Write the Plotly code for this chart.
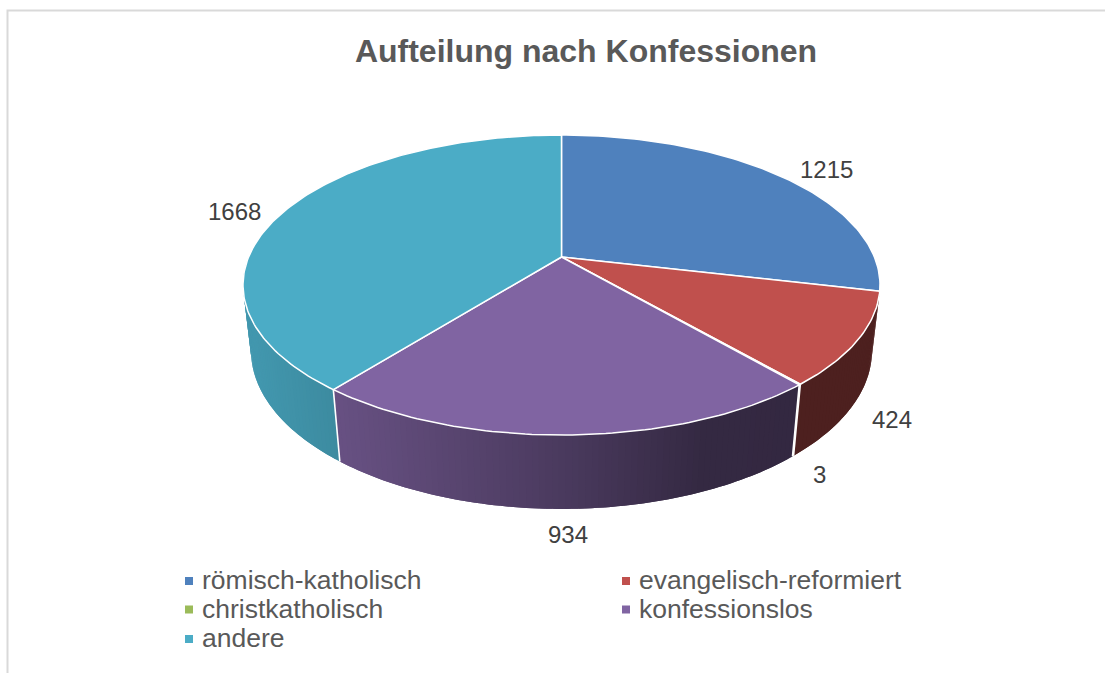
import numpy as np
import plotly.graph_objects as go

title = "Aufteilung nach Konfessionen"
categories = ["römisch-katholisch", "evangelisch-reformiert", "christkatholisch", "konfessionslos", "andere"]
values = [1215, 424, 3, 934, 1668]
colors = ["#4f81bd", "#c0504d", "#9bbb59", "#8064a2", "#4bacc6"]

W, H = 1105, 673
# projection of the 3D disc onto the page (page-pixel axes)
CX, CY = 561.5, 257.0
RX, RY, PERSP = 312.9, 144.8, 0.1867
DEPTH_Y, DEPTH_W = 66.4, 0.025
WALL_FROM, WALL_TO = np.radians(103.0), 3 * np.pi / 2


def project(theta, z=0.0, r=1.0):
    """theta: clockwise from 12 o'clock, radians; z=0 top face, z=1 bottom face."""
    x, y = r * np.sin(theta), r * np.cos(theta)
    w = 1 + PERSP * y + DEPTH_W * z
    return CX + RX * x / w, CY - (RY * y - DEPTH_Y * z) / w


def shade(hex_color, factor):
    rgb = [int(hex_color[i:i + 2], 16) for i in (1, 3, 5)]
    return "rgb({},{},{})".format(*[int(round(c * factor)) for c in rgb])


def side_factor(px):
    return float(np.interp(px, [250, 340, 560, 700, 800, 880], [0.88, 0.80, 0.58, 0.41, 0.40, 0.40]))


edges = np.cumsum([0] + values) / sum(values) * 2 * np.pi
fig = go.Figure()

# side wall: the part facing the viewer, as overlapping strips (each painted over the last)
for i, col in enumerate(colors):
    a0, a1 = max(edges[i], WALL_FROM), min(edges[i + 1], WALL_TO)
    if a1 <= a0:
        continue
    steps = max(2, int((a1 - a0) / np.radians(1.0)))
    ts = np.linspace(a0, a1, steps + 1)
    for t0, t1 in zip(ts[:-1], ts[1:]):
        t2 = min(t1 + (t1 - t0), a1)
        seg = np.array([t0, t1, t2])
        xt, yt = project(seg)
        xb, yb = project(seg[::-1], 1.0)
        c = shade(col, side_factor(float(np.mean(xt))))
        fig.add_trace(go.Scatter(
            x=[*xt, *xb, xt[0]], y=[*yt, *yb, yt[0]], mode="none", fill="toself",
            fillcolor=c, showlegend=False, hoverinfo="skip"))

# white separators on the wall
for e in edges[1:-1]:
    if WALL_FROM + 0.02 < e < WALL_TO:
        xa, ya = project(e)
        xb, yb = project(e, 1.0)
        fig.add_trace(go.Scatter(x=[xa, xb], y=[ya, yb], mode="lines",
                                 line=dict(color="white", width=1.6), showlegend=False, hoverinfo="skip"))

# top face
for i, (name, col) in enumerate(zip(categories, colors)):
    ts = np.linspace(edges[i], edges[i + 1], max(2, int((edges[i + 1] - edges[i]) / np.radians(1))) + 1)
    xs, ys = project(ts)
    fig.add_trace(go.Scatter(
        x=[CX, *xs, CX], y=[CY, *ys, CY], mode="lines", fill="toself", fillcolor=col,
        line=dict(color="white", width=1.5), name=name, showlegend=False, hoverinfo="name"))

# data labels
label_pos = [(826, 169), (892, 419), (819, 474), (568, 534), (234, 211)]
for v, (lx, ly) in zip(values, label_pos):
    fig.add_annotation(x=lx, y=ly, text=str(v), showarrow=False, xref="x", yref="y",
                       font=dict(family="Liberation Sans", size=24, color="#404040"))

# legend, two columns with a tight row pitch
legend_slots = [(189, 581), (626, 581), (189, 609.5), (626, 609.5), (189, 639)]
for name, col, (mx, my) in zip(categories, colors, legend_slots):
    fig.add_trace(go.Scatter(x=[mx], y=[my], mode="markers", name=name, showlegend=False, hoverinfo="name",
                             marker=dict(symbol="square", size=8, color=col)))
    fig.add_annotation(x=mx + 11, y=my - 1, text=name, showarrow=False, xref="x", yref="y", xanchor="left",
                       font=dict(family="Liberation Sans", size=26.5, color="#595959"))

fig.add_shape(type="path", path=f"M 7.5 {H} L 7.5 10.5 L {W} 10.5", xref="x", yref="y",
              line=dict(color="#d9d9d9", width=2))

fig.update_layout(
    width=W, height=H, autosize=False, margin=dict(l=0, r=0, t=0, b=0),
    paper_bgcolor="white", plot_bgcolor="white", showlegend=False,
    title=dict(text=f"<b>{title}</b>", x=586 / W, xanchor="center", xref="paper", y=1 - 51 / H, yanchor="middle",
               font=dict(family="Liberation Sans", size=32, color="#595959")),
    xaxis=dict(range=[0, W], visible=False, fixedrange=True),
    yaxis=dict(range=[H, 0], visible=False, fixedrange=True),
)
fig.write_html("out.html", config=dict(displayModeBar=False),
               post_script="document.body.style.margin='0';document.documentElement.style.overflow='hidden';")
